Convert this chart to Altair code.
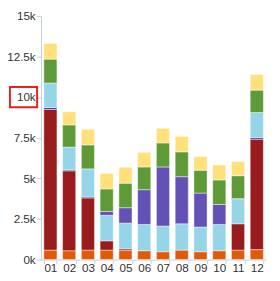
import altair as alt
import pandas as pd

months = ["01", "02", "03", "04", "05", "06", "07", "08", "09", "10", "11", "12"]
series = ["S1", "S2", "S3", "S4", "S5", "S6", "S7"]
colors = ["#E05A08", "#981B1E", "#22309C", "#96D5E8", "#6451B5", "#5E9B38", "#FFE07A"]

s1_orange = [580, 540, 580, 580, 550, 540, 480, 580, 480, 540, 580, 610]
s2_darkred = [8660, 4920, 3210, 570, 100, 0, 0, 0, 0, 0, 1620, 6790]
s3_darkblue = [110, 60, 60, 0, 0, 0, 0, 0, 0, 0, 0, 100]
s4_lightblue = [1520, 1400, 1730, 1570, 1590, 1620, 1580, 1620, 1520, 1620, 1500, 1550]
s5_purple = [0, 0, 0, 240, 950, 2140, 3640, 2900, 2090, 1230, 50, 0]
s6_green = [1470, 1370, 1480, 1390, 1510, 1400, 1480, 1530, 1410, 1510, 1410, 1380]
s7_yellow = [960, 810, 960, 950, 980, 900, 900, 950, 850, 920, 870, 960]

y_ticks = [0, 2500, 5000, 7500, 10000, 12500, 15000]

all_series = [s1_orange, s2_darkred, s3_darkblue, s4_lightblue, s5_purple, s6_green, s7_yellow]
rows = []
for i, m in enumerate(months):
    for j, s in enumerate(series):
        rows.append({"month": m, "series": s, "ord": j, "value": all_series[j][i]})
df = pd.DataFrame(rows)

axis_col = "#C0D0E0"
font = "Liberation Sans"

bars = alt.Chart(df).transform_filter("datum.value > 0").mark_bar(
    stroke="white", strokeWidth=1, strokeOpacity=0.45
).encode(
    x=alt.X(
        "month:N", sort=months,
        scale=alt.Scale(paddingInner=0.3, paddingOuter=0.15),
        axis=alt.Axis(
            title=None, labelAngle=0, domainColor=axis_col, tickColor=axis_col,
            tickSize=4, tickBand="extent", labelPadding=-0.5, labelFont=font,
            labelFontSize=12, labelColor="#333333",
        ),
    ),
    y=alt.Y(
        "value:Q", stack="zero",
        scale=alt.Scale(domain=[0, 15000], nice=False),
        axis=alt.Axis(
            title=None, values=y_ticks, labelExpr="datum.value / 1000 + 'k'",
            grid=False, domainColor=axis_col, tickColor=axis_col, tickSize=5,
            labelPadding=1, labelFont=font, labelFontSize=12, labelColor="#333333",
        ),
    ),
    color=alt.Color("series:N", scale=alt.Scale(domain=series, range=colors), legend=None),
    order=alt.Order("ord:Q", sort="ascending"),
)

box = alt.Chart(pd.DataFrame({"v": [10000]})).mark_rect(
    fill="white", fillOpacity=0, stroke="#E8201C", strokeWidth=2, height=21
).encode(
    x=alt.value(-32), x2=alt.value(-4), y=alt.Y("v:Q")
)

chart = alt.layer(bars, box).properties(
    width=232, height=251,
    padding={"left": 34, "top": 4, "right": 6, "bottom": 18},
    autosize=alt.AutoSizeParams(type="none"),
).configure_view(stroke=None)

chart.save("out.html", embed_options={"renderer": "svg", "actions": False})
